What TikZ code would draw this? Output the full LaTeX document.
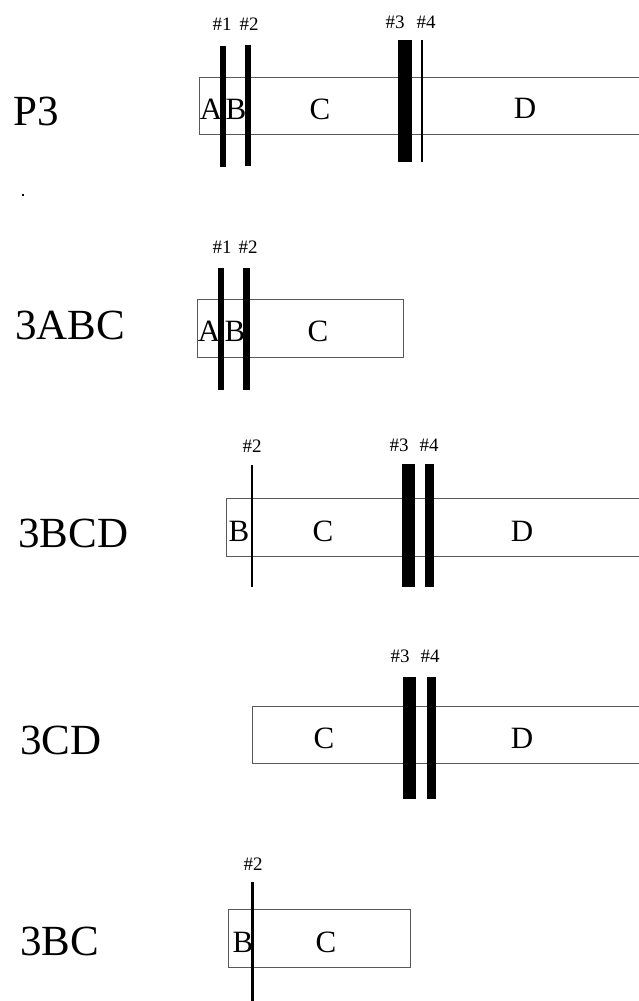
\documentclass[tikz,border=0pt]{standalone}
\usepackage{fontspec}
\setmainfont{Liberation Serif}
\begin{document}
\begin{tikzpicture}[x=1pt,y=-1pt,
  rowname/.style={anchor=base west,inner sep=0pt,font=\fontsize{43}{43}\selectfont},
  seg/.style={anchor=base,inner sep=0pt,font=\fontsize{31}{31}\selectfont},
  tag/.style={anchor=base,inner sep=0pt,font=\fontsize{19}{19}\selectfont},
  frame/.style={draw=black!65,line width=0.9pt},
  bar/.style={fill=black,draw=none}]
\useasboundingbox (0,0) rectangle (639,1001);

% stray mark
\fill (21.5,194) rectangle (23.5,196);

% ---------- P3 ----------
\node[rowname] (n1) at (13,125) {P3};
\draw[frame] (640,77) -- (199,77) -- (199,134) -- (640,134);
\node[seg] (a1) at (211,119) {A};
\node[seg] (b1) at (236,119) {B};
\node[seg] (c1) at (320,119) {C};
\node[seg] (d1) at (525,118) {D};
\fill[bar] (220,46) rectangle (226,167);
\fill[bar] (244.5,45) rectangle (251,166);
\fill[bar] (398,40) rectangle (412,162);
\fill[bar] (420.8,40) rectangle (423.3,162);
\node[tag] (t11) at (222,30) {\#1};
\node[tag] (t12) at (249,30) {\#2};
\node[tag] (t13) at (395,28) {\#3};
\node[tag] (t14) at (426,28) {\#4};

% ---------- 3ABC ----------
\node[rowname] (n2) at (15,339) {3ABC};
\draw[frame] (197,299) rectangle (403,357);
\node[seg] (a2) at (209,341) {A};
\node[seg] (b2) at (235,341) {B};
\node[seg] (c2) at (318,341) {C};
\fill[bar] (218.3,268) rectangle (224.3,390);
\fill[bar] (243,268) rectangle (250,390);
\node[tag] (t21) at (222,253) {\#1};
\node[tag] (t22) at (248,253) {\#2};

% ---------- 3BCD ----------
\node[rowname] (n3) at (18,547) {3BCD};
\draw[frame] (640,498) -- (226,498) -- (226,556) -- (640,556);
\node[seg] (b3) at (239,541) {B};
\node[seg] (c3) at (323,541) {C};
\node[seg] (d3) at (522,541) {D};
\fill[bar] (251,465) rectangle (253.3,587);
\fill[bar] (402,464) rectangle (415,587);
\fill[bar] (425.3,464) rectangle (434.3,587);
\node[tag] (t32) at (252,452) {\#2};
\node[tag] (t33) at (399,451) {\#3};
\node[tag] (t34) at (429,451) {\#4};

% ---------- 3CD ----------
\node[rowname] (n4) at (20,754) {3CD};
\draw[frame] (640,706) -- (252,706) -- (252,763) -- (640,763);
\node[seg] (c4) at (324,748) {C};
\node[seg] (d4) at (522,748) {D};
\fill[bar] (403.3,677) rectangle (416,799);
\fill[bar] (426.7,677) rectangle (436,799);
\node[tag] (t43) at (400,662) {\#3};
\node[tag] (t44) at (430,662) {\#4};

% ---------- 3BC ----------
\node[rowname] (n5) at (20,955) {3BC};
\draw[frame] (228.3,909) rectangle (410.7,967);
\node[seg] (b5) at (243,952) {B};
\node[seg] (c5) at (326,952) {C};
\fill[bar] (251.3,882) rectangle (253.6,1001);
\node[tag] (t52) at (253,870) {\#2};
\end{tikzpicture}
\end{document}
